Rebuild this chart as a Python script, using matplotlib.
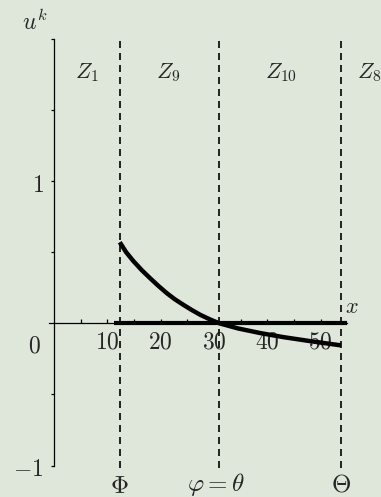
import numpy as np
import matplotlib
matplotlib.use("Agg")
import matplotlib.pyplot as plt

plt.rcParams['mathtext.fontset'] = 'cm'
plt.rcParams['font.family'] = 'serif'

# zone boundaries on the x axis
phi_left = 12.3     # Phi
theta_mid = 31.0    # phi = theta
theta_right = 53.8  # Theta

# u^k along the middle zones
curve_x = [12.3, 13.5, 14.8, 16.4, 18.0, 19.5, 21.1, 22.6, 24.2, 25.8, 27.4,
           29.2, 31.0, 34.5, 38.6, 43.0, 48.0, 53.8]
curve_u = [0.57, 0.50, 0.44, 0.375, 0.317, 0.265, 0.213, 0.170, 0.131, 0.094,
           0.060, 0.028, 0.0, -0.036, -0.068, -0.097, -0.125, -0.155]

# flat branch u = 0
flat_x = [11.3, 55.0]
flat_u = [0.0, 0.0]

xtick_pos = [10, 20, 30, 40, 50]
xtick_minor = [5, 15, 25, 35, 45]
ytick_pos = [-1, -0.5, 0.5, 1, 1.5, 2]

zone_names = ['$Z_1$', '$Z_9$', '$Z_{10}$', '$Z_8$']
zone_x = [6.15, 21.4, 42.6, 59.2]

bg = '#dfe7db'
ink = '#262626'

fig = plt.figure(figsize=(3.81, 4.97), dpi=100, facecolor=bg)
ax = fig.add_axes([0.1283, 0.0346, 0.797, 0.916], facecolor=bg)
ax.set_xlim(-1, 56)
ax.set_ylim(-1.1, 2.1)

for s in ['top', 'right']:
    ax.spines[s].set_visible(False)
ax.spines['left'].set_position(('data', 0))
ax.spines['bottom'].set_position(('data', 0))
ax.spines['left'].set_bounds(-1, 2)
ax.spines['bottom'].set_bounds(-0.9, 55)
ax.spines['left'].set_linewidth(0.9)
ax.spines['bottom'].set_linewidth(0.9)

ax.set_xticks(xtick_pos)
ax.set_xticklabels(['$%d$' % v for v in xtick_pos])
ax.set_xticks(xtick_minor, minor=True)
ax.tick_params(axis='x', which='both', direction='in', length=3, width=0.9,
               labelsize=17, pad=5.5, colors='black', labelcolor=ink)
ax.set_yticks(ytick_pos)
ax.set_yticklabels([])
ax.tick_params(axis='y', direction='out', length=2.5, width=0.9)

# dashed zone boundaries
ax.vlines([phi_left, theta_mid, theta_right], -1.02, 2.02, colors='black',
          linewidth=1.2, linestyles=(0, (4.2, 3.0)))

ax.plot(flat_x, flat_u, color='black', lw=3.0, solid_capstyle='butt')
ax.plot(curve_x, curve_u, color='black', lw=3.2, solid_capstyle='butt')

# axis texts
ax.text(-3.6, 2.115, '$u^k$', fontsize=17, color=ink, ha='center', va='center', clip_on=False)
ax.text(55.9, 0.115, '$x$', fontsize=16, color=ink, ha='center', va='center')
ax.text(-3.8, -0.16, '$0$', fontsize=17, color=ink, ha='center', va='center')
ax.text(-1.9, 0.97, '$1$', fontsize=17, color=ink, ha='right', va='center')
ax.text(-2.0, -1.03, '$-1$', fontsize=17, color=ink, ha='right', va='center')

for name, zx in zip(zone_names, zone_x):
    ax.text(zx, 1.765, name, fontsize=16, color=ink, ha='center', va='center', clip_on=False)

# boundary names under the axis
ax.text(phi_left, -1.145, r'$\Phi$', fontsize=18, color=ink, ha='center', va='center', clip_on=False)
ax.text(30.4, -1.13, r'$\varphi = \theta$', fontsize=18, color=ink, ha='center', va='center', clip_on=False)
ax.text(theta_right, -1.14, r'$\Theta$', fontsize=18, color=ink, ha='center', va='center', clip_on=False)

fig.savefig('out.png', dpi=100, facecolor=bg)
